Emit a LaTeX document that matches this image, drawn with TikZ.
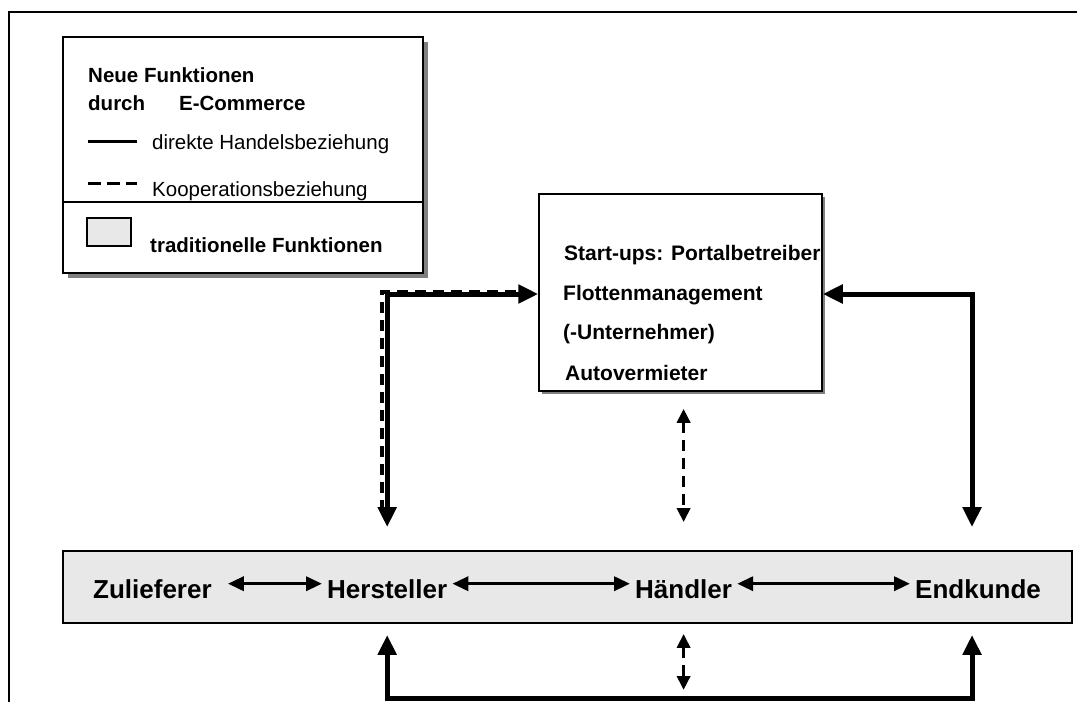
\documentclass[tikz,border=0pt]{standalone}
\usepackage{fontspec}
\setmainfont{Liberation Sans}
\usetikzlibrary{arrows.meta,shadows}

\definecolor{boxgray}{RGB}{232,232,232}

\begin{document}
\begin{tikzpicture}[x=1pt,y=-1pt,
  frame/.style={draw,line width=1.5pt,inner sep=0pt},
  legtext/.style={anchor=base west,inner sep=0pt,font=\fontsize{20.5}{24}\selectfont},
  boxtext/.style={anchor=base west,inner sep=0pt,font=\fontsize{21}{24}\selectfont\bfseries},
  bartext/.style={anchor=base west,inner xsep=5pt,inner ysep=0pt,font=\fontsize{26}{30}\selectfont\bfseries},
  trade/.style={line width=5pt,>={Triangle[length=20pt,width=18pt]}},
  coop/.style={line width=3.5pt,dash pattern=on 11pt off 7pt,>={Triangle[length=14pt,width=13pt]}},
  barrow/.style={line width=3.5pt,>={Triangle[length=16pt,width=14pt]}}]
  \useasboundingbox (0,0) rectangle (1077,702);
  % frame
  \draw[line width=1.8pt] (9,702) -- (9,12) -- (1077,12);

  % legend
  \node[frame,fill=white,minimum width=360pt,minimum height=236pt,
    drop shadow={shadow xshift=5pt,shadow yshift=-5pt,fill=gray,opacity=1}](legend) at (243,155){};
  \node[legtext](neu) at (88,82){\bfseries Neue Funktionen};
  \node[legtext](durch) at (88,110){\bfseries durch\hspace{34pt}E-Commerce};
  \draw[line width=3pt] (88,141) -- (137,141);
  \node[legtext](direkt) at (152,149){direkte Handelsbeziehung};
  \draw[line width=3pt,dash pattern=on 13pt off 6pt] (88,183) -- (137,183);
  \node[legtext](koop) at (152,196){Kooperationsbeziehung};
  \draw[line width=1.5pt] (legend.west |- 0,202) -- (legend.east |- 0,202);
  \node[frame,fill=boxgray,minimum width=44pt,minimum height=28pt](trad) at (109,232){};
  \node[legtext](tradtext) at (150,252){\bfseries traditionelle Funktionen};

  % neue Akteure
  \node[frame,fill=white,minimum width=283pt,minimum height=197pt,
    drop shadow={shadow xshift=3pt,shadow yshift=-3pt,fill=gray,opacity=1}](actor) at (680.5,292.5){};
  \node[boxtext](portal) at (564,260){Start-ups: Portalbetreiber};
  \node[boxtext](flotte) at (563,300){Flottenmanagement};
  \node[boxtext](untern) at (563,339){(-Unternehmer)};
  \node[boxtext](vermiet) at (565,380){Autovermieter};

  % traditionelle Kette
  \node[frame,fill=boxgray,line width=1.8pt,minimum width=1009pt,minimum height=72pt](bar) at (567.5,587){};
  \node[bartext](zul) at (88,598){Zulieferer};
  \node[bartext](herst) at (322,598){Hersteller};
  \node[bartext](haendl) at (630,598){Händler};
  \node[bartext](kunde) at (910,598){Endkunde};
  \draw[barrow,<->,shorten <=11pt] ([yshift=5pt]zul.east) -- ([yshift=5pt]herst.west);
  \draw[barrow,<->] ([yshift=5pt]herst.east) -- ([yshift=5pt]haendl.west);
  \draw[barrow,<->] ([yshift=5pt]haendl.east) -- ([yshift=5pt]kunde.west);

  % connectors
  \coordinate (bot) at (0,698);
  \path (kunde.north) ++(-6,0) coordinate (kup);
  \path (herst.north |- bar.north) ++(-5,-41) coordinate (hdash);
  \draw[trade,<->,shorten >=23pt] ([yshift=-1.5pt]actor.west) -| (herst.north |- bar.north);
  \draw[coop] ([xshift=-22pt,yshift=0.5pt]actor.west) -| (hdash);
  \draw[trade,<->,shorten >=23pt] ([yshift=-1.5pt]actor.east) -| (kup |- bar.north);
  \draw[coop,<->,shorten <=17pt,shorten >=28pt] (haendl.north |- actor.south) -- (haendl.north |- bar.north);
  \draw[trade,<->,shorten <=11pt,shorten >=11pt] (herst.south |- bar.south) -- (herst.south |- bot)
    -- (kup |- bot) -- (kup |- bar.south);
  \draw[coop,<->,shorten <=10pt,shorten >=8pt] (haendl.south |- bar.south) -- (haendl.south |- bot);
\end{tikzpicture}
\end{document}
